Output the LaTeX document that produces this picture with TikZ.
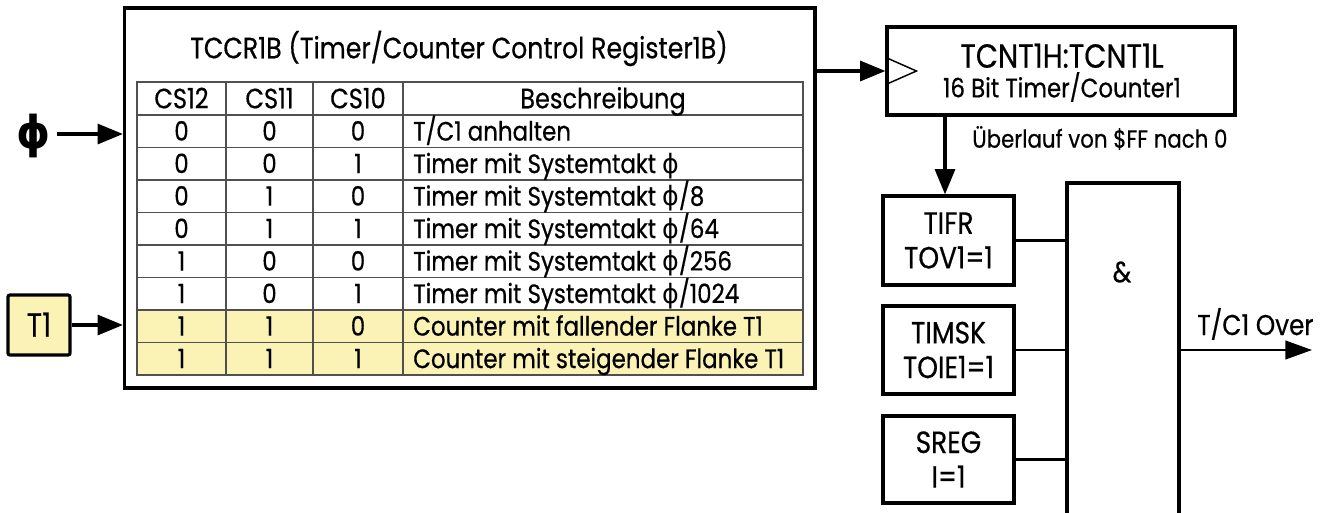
\documentclass[tikz,border=0pt]{standalone}
\usepackage{fontspec}
\setmainfont{Poppins}[FakeStretch=0.86,FakeBold=0.5]
\newfontfamily\grk{DejaVu Sans}[FakeStretch=0.95]
\usetikzlibrary{arrows.meta,calc}
\definecolor{tyellow}{HTML}{FAF3B5}
\definecolor{tgrid}{HTML}{505050}
\newcommand{\ph}{{\grk ϕ}}
\begin{document}
\begin{tikzpicture}[x=0.75pt,y=-0.75pt,
  heavy/.style={draw, line width=2.4pt, inner sep=0pt},
  arr/.style={line width=2.4pt, -{Triangle[length=19pt,width=15pt]}},
  wire/.style={line width=1.6pt},
  tline/.style={draw=tgrid, line width=0.8pt},
  cell/.style={inner sep=0pt, text height=14pt, text depth=0pt, font=\fontsize{20}{22}\selectfont},
  hcell/.style={inner sep=0pt, text height=14.7pt, text depth=0pt, font=\fontsize{21}{23}\selectfont},
  lbl/.style={inner sep=0pt, text depth=0pt},
  twotext/.style={align=center, inner sep=0pt, font=\fontsize{23}{26}\selectfont}
]
\useasboundingbox (0,0) rectangle (1332,512);

% main register box
\node[heavy, minimum width=690.5*0.75pt, minimum height=380*0.75pt] (main) at (469.75,198) {};
\node[lbl, text height=15.4pt, font=\fontsize{22}{24}\selectfont] (title) at (459,48) {TCCR1B (Timer/Counter Control Register1B)};

% table
\fill[tyellow] (137,310) rectangle (803,375);
\draw[tline] (137,82) rectangle (803,375);
\foreach \yy in {115,147.5,180,212.5,245,277.5,310,342.5}
  \draw[tline] (137,\yy) -- (803,\yy);
\foreach \xx in {226,313,403}
  \draw[tline] (\xx,82) -- (\xx,375);

\node[hcell] (h1) at (181.5,98.5) {CS12};
\node[hcell] (h2) at (269.5,98.5) {CS11};
\node[hcell] (h3) at (358,98.5) {CS10};
\node[hcell] (h4) at (603,98.5) {Beschreibung};

\node[cell] (a1) at (181.5,131.25) {0};
\node[cell] (b1) at (269.5,131.25) {0};
\node[cell] (c1) at (358,131.25) {0};
\node[cell, anchor=west] (d1) at (413,131.25) {T/C1 anhalten};

\node[cell] (a2) at (181.5,163.75) {0};
\node[cell] (b2) at (269.5,163.75) {0};
\node[cell] (c2) at (358,163.75) {1};
\node[cell, anchor=west] (d2) at (413,163.75) {Timer mit Systemtakt \ph};

\node[cell] (a3) at (181.5,196.25) {0};
\node[cell] (b3) at (269.5,196.25) {1};
\node[cell] (c3) at (358,196.25) {0};
\node[cell, anchor=west] (d3) at (413,196.25) {Timer mit Systemtakt \ph/8};

\node[cell] (a4) at (181.5,228.75) {0};
\node[cell] (b4) at (269.5,228.75) {1};
\node[cell] (c4) at (358,228.75) {1};
\node[cell, anchor=west] (d4) at (413,228.75) {Timer mit Systemtakt \ph/64};

\node[cell] (a5) at (181.5,261.25) {1};
\node[cell] (b5) at (269.5,261.25) {0};
\node[cell] (c5) at (358,261.25) {0};
\node[cell, anchor=west] (d5) at (413,261.25) {Timer mit Systemtakt \ph/256};

\node[cell] (a6) at (181.5,293.75) {1};
\node[cell] (b6) at (269.5,293.75) {0};
\node[cell] (c6) at (358,293.75) {1};
\node[cell, anchor=west] (d6) at (413,293.75) {Timer mit Systemtakt \ph/1024};

\node[cell] (a7) at (181.5,326.25) {1};
\node[cell] (b7) at (269.5,326.25) {1};
\node[cell] (c7) at (358,326.25) {0};
\node[cell, anchor=west] (d7) at (413,326.25) {Counter mit fallender Flanke T1};

\node[cell] (a8) at (181.5,358.75) {1};
\node[cell] (b8) at (269.5,358.75) {1};
\node[cell] (c8) at (358,358.75) {1};
\node[cell, anchor=west] (d8) at (413,358.75) {Counter mit steigender Flanke T1};

% inputs
\node[inner sep=0pt, font=\fontsize{34}{36}\selectfont\grk\bfseries] (phi) at (34,136) {ϕ};
\node[heavy, fill=tyellow, rounded corners=1.5pt, minimum width=62*0.75pt, minimum height=60*0.75pt,
      text height=17.5pt, text depth=0pt, font=\fontsize{25}{27}\selectfont] (t1) at (39,325) {T1};
\coordinate (phiin) at (57,134);
\draw[arr] (phiin) -- (phiin -| main.west);
\draw[arr] (t1.east) -- (t1.east -| main.west);

% counter
\node[heavy, minimum width=348*0.75pt, minimum height=88*0.75pt] (tcnt) at (1061,71) {};
\node[lbl, text height=17.5pt, font=\fontsize{25}{27}\selectfont] (tcnta) at (1062,56) {TCNT1H:TCNT1L};
\node[lbl, text height=14pt, font=\fontsize{20}{22}\selectfont] (tcntb) at (1062,88) {16 Bit Timer/Counter1};
\draw[line width=1.1pt] ($(tcnt.west)+(1.6,-13)$) -- ($(tcnt.west)+(31,0)$) -- ($(tcnt.west)+(1.6,13)$);
\draw[arr] (main.east |- tcnt.west) -- (tcnt.west);

% flag boxes
\node[heavy, minimum width=131*0.75pt, minimum height=89*0.75pt] (tifr) at (948.5,240.5) {};
\node[heavy, minimum width=131*0.75pt, minimum height=88*0.75pt] (timsk) at (948.5,350) {};
\node[heavy, minimum width=131*0.75pt, minimum height=87*0.75pt] (sreg) at (948.5,459.5) {};
\node[twotext] (tifrt) at (tifr.center) {TIFR\\TOV1=1};
\node[twotext] (timskt) at (timsk.center) {TIMSK\\TOIE1=1};
\node[twotext] (sregt) at (sreg.center) {SREG\\I=1};

\coordinate (ovtop) at (945,115);
\draw[arr] (tcnt.south -| ovtop) -- (tifr.north -| ovtop);
\node[lbl, anchor=west, text height=13pt, font=\fontsize{18.6}{20}\selectfont] (ovl) at (972,139) {Überlauf von \$FF nach 0};

% AND gate
\node[heavy, minimum width=112*0.75pt, minimum height=360*0.75pt] (and) at (1123,363) {};
\node[lbl, text height=15.4pt, font=\fontsize{22}{24}\selectfont] (amp) at (1122,272) {\&};
\draw[wire] (tifr.east) -- (tifr.east -| and.west);
\draw[wire] (timsk.east) -- (timsk.east -| and.west);
\draw[wire] (sreg.east) -- (sreg.east -| and.west);

\coordinate (out) at (1312,350);
\draw[wire, -{Triangle[length=20pt,width=14pt]}] (and.east |- out) -- (out);
\node[lbl, anchor=west, text height=15pt, font=\fontsize{21.5}{23}\selectfont] (outl) at (1197,325) {T/C1 Over};
\end{tikzpicture}
\end{document}
